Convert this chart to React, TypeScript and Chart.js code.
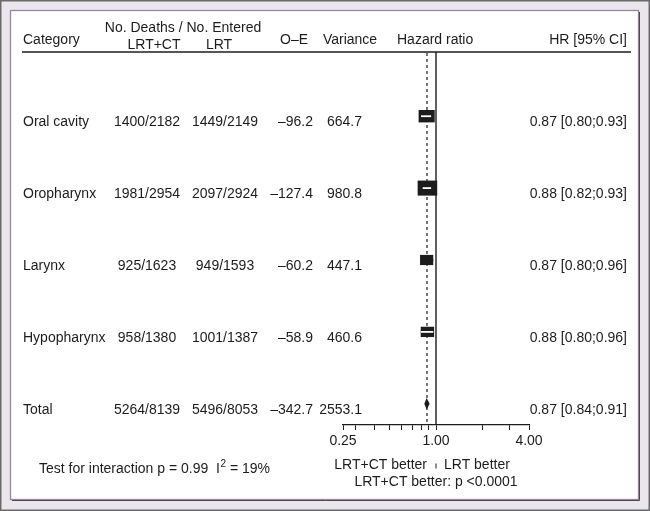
import React, { useEffect, useRef } from 'react';
import { Chart, registerables } from 'chart.js';

Chart.register(...registerables);

// ---- data ----
const categories = ['Oral cavity', 'Oropharynx', 'Larynx', 'Hypopharynx', 'Total'];
const deathsLRTCT = [1400, 1981, 925, 958, 5264];
const enteredLRTCT = [2182, 2954, 1623, 1380, 8139];
const deathsLRT = [1449, 2097, 949, 1001, 5496];
const enteredLRT = [2149, 2924, 1593, 1387, 8053];
const oMinusE = [-96.2, -127.4, -60.2, -58.9, -342.7];
const variances = [664.7, 980.8, 447.1, 460.6, 2553.1];
const hazardRatios = [0.87, 0.88, 0.87, 0.88, 0.87];
const ciLow = [0.80, 0.82, 0.80, 0.80, 0.84];
const ciHigh = [0.93, 0.93, 0.96, 0.96, 0.91];
const xTickValues = [0.25, 0.3, 0.4, 0.5, 0.6, 0.7, 0.8, 0.9, 1, 2, 3, 4];
const xTickLabelled = [0.25, 1, 4];
const headerCategory = 'Category';
const headerDeaths = 'No. Deaths / No. Entered';
const headerArm1 = 'LRT+CT';
const headerArm2 = 'LRT';
const headerOE = 'O–E';
const headerVar = 'Variance';
const headerHR = 'Hazard ratio';
const headerCI = 'HR [95% CI]';
const favourLeft = 'LRT+CT better';
const favourRight = 'LRT better';
const overallTest = 'LRT+CT better: p <0.0001';
const interactionText = 'Test for interaction p = 0.99  I';
const interactionSup = '2';
const interactionTail = ' = 19%';

const FONT = '"Liberation Sans", Arial, Helvetica, sans-serif';
const INK = '#1c1c1c';

export default function App() {
  const ref = useRef<HTMLCanvasElement>(null);

  useEffect(() => {
    const canvas = ref.current;
    if (!canvas) return;

    const forestPlugin = {
      id: 'forest',
      beforeDraw(chart: any) {
        const ctx = chart.ctx as CanvasRenderingContext2D;
        ctx.save();
        ctx.fillStyle = '#e9e6ec';
        ctx.fillRect(0, 0, 650, 511);
        ctx.strokeStyle = '#6a6a6a';
        ctx.lineWidth = 1.5;
        ctx.strokeRect(0.75, 0.75, 648.5, 509.5);
        ctx.fillStyle = '#ffffff';
        ctx.fillRect(11, 11, 627, 488);
        ctx.strokeStyle = '#9d84a5';
        ctx.lineWidth = 1.3;
        ctx.strokeRect(10.5, 10.5, 628, 489);
        ctx.strokeStyle = '#4b4b4b';
        ctx.lineWidth = 1;
        ctx.beginPath();
        ctx.moveTo(639.5, 12);
        ctx.lineTo(639.5, 500.5);
        ctx.lineTo(12, 500.5);
        ctx.stroke();
        ctx.restore();
      },
      afterDatasetsDraw(chart: any) {
        const ctx = chart.ctx as CanvasRenderingContext2D;
        const area = chart.chartArea;
        const xs = chart.scales.x;
        const ys = chart.scales.y;
        const px = (v: number) => xs.getPixelForValue(v);
        const py = (v: number) => ys.getPixelForValue(v);
        ctx.save();

        const text = (s: string, x: number, y: number, align: CanvasTextAlign, size = 14) => {
          ctx.font = `${size}px ${FONT}`;
          ctx.fillStyle = INK;
          ctx.textAlign = align;
          ctx.textBaseline = 'alphabetic';
          ctx.fillText(s, x, y);
        };
        const line = (x1: number, y1: number, x2: number, y2: number, w: number, c = INK) => {
          ctx.strokeStyle = c;
          ctx.lineWidth = w;
          ctx.beginPath();
          ctx.moveTo(x1, y1);
          ctx.lineTo(x2, y2);
          ctx.stroke();
        };

        // headers
        text(headerCategory, 23, 43.5, 'left');
        text(headerDeaths, 183, 31.5, 'center');
        text(headerArm1, 154, 48.5, 'center');
        text(headerArm2, 219, 48.5, 'center');
        text(headerOE, 294, 43.5, 'center');
        text(headerVar, 350, 43.5, 'center');
        text(headerHR, 397, 43.5, 'left');
        text(headerCI, 627, 43.5, 'right');
        line(22, 52, 631, 52, 1.6);

        // reference lines
        const x1 = px(1);
        line(x1, area.top - 1, x1, area.bottom, 1.4);
        const pooled = Math.exp(oMinusE[4] / variances[4]);
        ctx.setLineDash([3, 3]);
        line(px(pooled), area.top, px(pooled), area.bottom, 1.2);
        ctx.setLineDash([]);

        // rows
        categories.forEach((cat, i) => {
          const cy = py(i + 1);
          const by = cy + 10;
          text(cat, 23, by, 'left');
          text(`${deathsLRTCT[i]}/${enteredLRTCT[i]}`, 147, by, 'center');
          text(`${deathsLRT[i]}/${enteredLRT[i]}`, 225, by, 'center');
          text(`–${Math.abs(oMinusE[i]).toFixed(1)}`, 313, by, 'right');
          text(variances[i].toFixed(1), 362, by, 'right');
          text(`${hazardRatios[i].toFixed(2)} [${ciLow[i].toFixed(2)};${ciHigh[i].toFixed(2)}]`, 627, by, 'right');

          const cx = px(hazardRatios[i]);
          const l = px(ciLow[i]);
          const r = px(ciHigh[i]);
          if (i < categories.length - 1) {
            const w = Math.sqrt(0.3 * variances[i] * 1.3);
            const h = w / 1.3;
            ctx.fillStyle = INK;
            ctx.fillRect(cx - w / 2, cy - h / 2, w, h);
            const inside = l >= cx - w / 2 && r <= cx + w / 2;
            line(l, cy, r, cy, 1.8, inside ? '#ffffff' : INK);
          } else {
            const h = 11.6;
            ctx.fillStyle = INK;
            ctx.beginPath();
            ctx.moveTo(l, cy);
            ctx.lineTo(cx, cy - h / 2);
            ctx.lineTo(r, cy);
            ctx.lineTo(cx, cy + h / 2);
            ctx.closePath();
            ctx.fill();
          }
        });

        // bottom annotations
        text(favourLeft, x1 - 9, 468.5, 'right');
        line(x1, 463.5, x1, 468.5, 1);
        text(favourRight, x1 + 8, 468.5, 'left');
        text(overallTest, x1, 486, 'center');

        ctx.font = `14px ${FONT}`;
        const w1 = ctx.measureText(interactionText).width;
        text(interactionText, 39, 472.5, 'left');
        text(interactionSup, 39 + w1 + 0.5, 467, 'left', 10);
        ctx.font = `10px ${FONT}`;
        const w2 = ctx.measureText(interactionSup).width;
        text(interactionTail, 39 + w1 + 0.5 + w2, 472.5, 'left');

        ctx.restore();
      },
    };

    const chart = new Chart(canvas, {
      type: 'scatter',
      data: {
        datasets: [
          {
            data: hazardRatios.map((v, i) => ({ x: v, y: i + 1 })),
            pointRadius: 0,
            showLine: false,
          },
        ],
      },
      options: {
        animation: false,
        responsive: false,
        events: [],
        layout: { padding: { left: 343, right: 121, top: 53, bottom: 56 } },
        plugins: { legend: { display: false }, tooltip: { enabled: false } },
        scales: {
          x: {
            type: 'logarithmic',
            min: 0.25,
            max: 4,
            afterBuildTicks: (s: any) => {
              s.ticks = xTickValues.map((v) => ({ value: v }));
            },
            afterFit: (s: any) => {
              s.height = 30;
            },
            ticks: {
              autoSkip: false,
              maxRotation: 0,
              minRotation: 0,
              padding: 3,
              color: INK,
              font: { family: FONT, size: 14 },
              callback: (v: any) => (xTickLabelled.includes(Number(v)) ? Number(v).toFixed(2) : ''),
            },
            grid: { drawOnChartArea: false, drawTicks: true, tickLength: 5, color: INK, lineWidth: 1 },
            border: { display: true, color: INK, width: 1.3 },
          },
          y: {
            type: 'linear',
            display: false,
            reverse: true,
            min: 0.121,
            max: 5.295,
          },
        },
      },
      plugins: [forestPlugin],
    } as any);

    return () => chart.destroy();
  }, []);

  return (
    <div style={{ position: 'fixed', left: 0, top: 0, width: 650, height: 511 }}>
      <canvas ref={ref} width={650} height={511} />
    </div>
  );
}
